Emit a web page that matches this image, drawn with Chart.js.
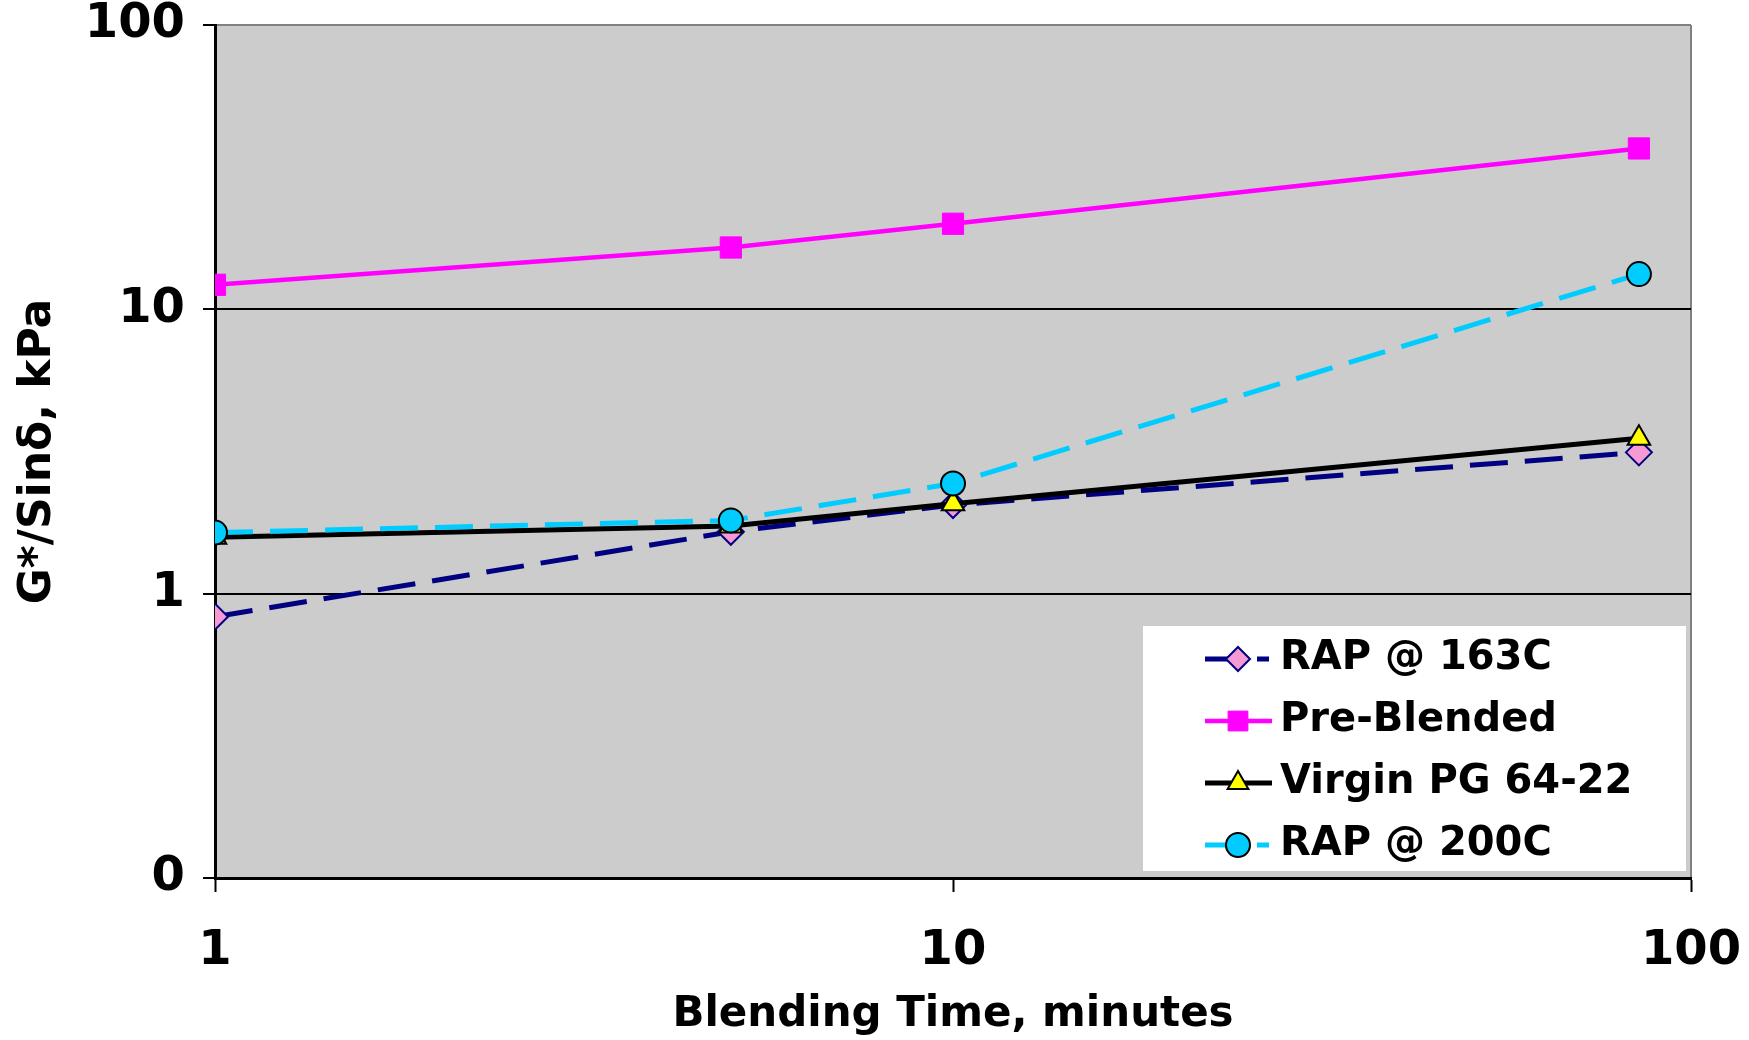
<!DOCTYPE html>
<html>
<head>
<meta charset="utf-8">
<script src="https://cdn.jsdelivr.net/npm/chart.js@4.4.1/dist/chart.umd.min.js"></script>
<style>
  html, body { margin: 0; padding: 0; background: #fff; }
  #wrap { width: 1749px; height: 1040px; }
</style>
</head>
<body>
<div id="wrap"><canvas id="blendChart" width="1749" height="1040"></canvas></div>
<script>
// blending time (minutes) and G*/sin(delta) values, kPa
const blendTimes = [1, 5, 10, 85];
const rap163 = [0.83, 1.65, 2.05, 3.14];
const preBlended = [12.2, 16.5, 20.0, 36.8];
const virginPG = [1.58, 1.73, 2.07, 3.52];
const rap200 = [1.64, 1.81, 2.44, 13.3];

const xTicks = [1, 10, 100];
const yTicks = [0.1, 1, 10, 100];
const yTickLabels = ["0", "1", "10", "100"];

const FONT = "'DejaVu Sans', Verdana, sans-serif";

const pts = arr => arr.map((v, i) => ({ x: blendTimes[i], y: v }));

const datasets = [
  {
    label: "RAP @ 163C",
    data: pts(rap163),
    borderColor: "#000080",
    borderWidth: 5,
    borderDash: [38, 17],
    pointStyle: "rectRot",
    pointRadius: 13,
    pointBackgroundColor: "#F59AD2",
    pointBorderColor: "#000080",
    pointBorderWidth: 2,
    order: 2,
  },
  {
    label: "Pre-Blended",
    data: pts(preBlended),
    borderColor: "#FF00FF",
    borderWidth: 4.5,
    pointStyle: "rect",
    pointRadius: 15,
    pointBackgroundColor: "#FF00FF",
    pointBorderColor: "#FF00FF",
    pointBorderWidth: 1,
    order: 3,
  },
  {
    label: "Virgin PG 64-22",
    data: pts(virginPG),
    borderColor: "#000000",
    borderWidth: 5,
    pointStyle: "triangle",
    pointRadius: 13,
    pointBackgroundColor: "#FFFF00",
    pointBorderColor: "#000000",
    pointBorderWidth: 2,
    order: 1,
  },
  {
    label: "RAP @ 200C",
    data: pts(rap200),
    borderColor: "#00CCFF",
    borderWidth: 5,
    borderDash: [38, 17],
    pointStyle: "circle",
    pointRadius: 12,
    pointBackgroundColor: "#00CCFF",
    pointBorderColor: "#000000",
    pointBorderWidth: 2,
    order: 0,
  },
];

// grey plot area + border
const plotBg = {
  id: "plotBg",
  beforeDraw(chart) {
    const { ctx, chartArea: a } = chart;
    ctx.save();
    ctx.fillStyle = "#CCCCCC";
    ctx.fillRect(a.left, a.top, a.width, a.height);
    ctx.strokeStyle = "#808080";
    ctx.lineWidth = 2;
    ctx.beginPath();
    ctx.moveTo(a.right, a.top);
    ctx.lineTo(a.right, a.bottom);
    ctx.stroke();
    ctx.restore();
  },
};

// legend box inside plot, lower right
const boxLegend = {
  id: "boxLegend",
  afterDatasetsDraw(chart) {
    const { ctx, chartArea: a } = chart;
    const bx = a.right - 548, by = a.bottom - 252;
    ctx.save();
    ctx.fillStyle = "#FFFFFF";
    ctx.fillRect(bx, by, 543, 245);
    chart.data.datasets.forEach((ds, i) => {
      const cy = by + 33 + i * 62;
      const x0 = bx + 62, x1 = bx + 129, mx = bx + 95;
      ctx.strokeStyle = ds.borderColor;
      ctx.lineWidth = ds.borderWidth;
      ctx.setLineDash(ds.borderDash ? [25, 27, 12, 100] : []);
      ctx.beginPath();
      ctx.moveTo(x0, cy);
      ctx.lineTo(x1, cy);
      ctx.stroke();
      ctx.setLineDash([]);
      ctx.fillStyle = ds.pointBackgroundColor;
      ctx.strokeStyle = ds.pointBorderColor;
      ctx.lineWidth = ds.pointBorderWidth;
      Chart.helpers.drawPoint(ctx, {
        pointStyle: ds.pointStyle,
        radius: ds.pointStyle === "rect" ? 14 : 12,
        borderWidth: ds.pointBorderWidth,
        rotation: 0,
      }, mx, cy);
      ctx.fillStyle = "#000";
      ctx.font = "bold 40px " + FONT;
      ctx.textBaseline = "middle";
      ctx.textAlign = "left";
      ctx.fillText(ds.label, bx + 137, cy);
    });
    ctx.restore();
  },
};

new Chart(document.getElementById("blendChart"), {
  type: "line",
  data: { datasets: datasets },
  options: {
    responsive: false,
    animation: false,
    layout: { padding: { top: 25, right: 58, left: 0, bottom: 0 } },
    plugins: {
      legend: { display: false },
      tooltip: { enabled: false },
    },
    scales: {
      x: {
        type: "logarithmic",
        min: 1,
        max: 100,
        afterBuildTicks: s => { s.ticks = xTicks.map(v => ({ value: v })); },
        afterFit: s => { s.height = 162; s.paddingLeft = 0; s.paddingRight = 0; },
        ticks: {
          color: "#000",
          font: { family: FONT, size: 48, weight: "bold" },
          padding: 31,
          maxRotation: 0,
          callback: v => String(v),
        },
        grid: {
          drawOnChartArea: false,
          tickLength: 14,
          tickColor: "#000",
          tickWidth: 2,
        },
        border: { color: "#000", width: 3 },
        title: {
          display: true,
          text: "Blending Time, minutes",
          color: "#000",
          font: { family: FONT, size: 42, weight: "bold" },
          padding: { top: 0, bottom: 0 },
        },
      },
      y: {
        type: "logarithmic",
        min: 0.1,
        max: 100,
        afterBuildTicks: s => { s.ticks = yTicks.map(v => ({ value: v })); },
        afterFit: s => { s.width = 215; s.paddingTop = 0; s.paddingBottom = 0; },
        ticks: {
          color: "#000",
          font: { family: FONT, size: 48, weight: "bold" },
          padding: 18,
          callback: v => yTickLabels[yTicks.indexOf(v)],
        },
        grid: {
          color: c => (c.tick && (c.tick.value === 1 || c.tick.value === 10)) ? "#000" : (c.tick && c.tick.value === 100 ? "#808080" : "rgba(0,0,0,0)"),
          lineWidth: 2,
          tickLength: 12,
          tickColor: "#000",
          tickWidth: 2,
        },
        border: { color: "#000", width: 3 },
        title: {
          display: true,
          text: "G*/Sinδ, kPa",
          color: "#000",
          font: { family: FONT, size: 44, weight: "bold" },
          padding: { top: 12, bottom: 0 },
        },
      },
    },
  },
  plugins: [plotBg, boxLegend],
});
</script>
</body>
</html>
